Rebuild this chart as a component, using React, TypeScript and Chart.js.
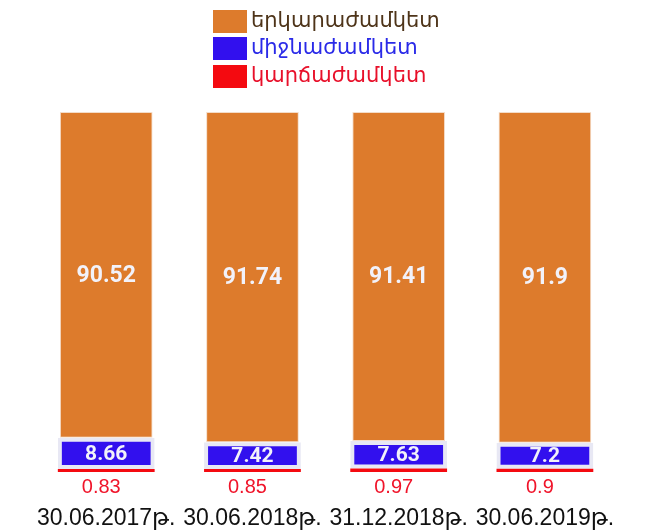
import { useEffect, useRef } from "react";
import { Chart, registerables } from "chart.js";

Chart.register(...registerables);

const categories = ["30.06.2017թ.", "30.06.2018թ.", "31.12.2018թ.", "30.06.2019թ."];
const shortTerm = [0.83, 0.85, 0.97, 0.9];
const mediumTerm = [8.66, 7.42, 7.63, 7.2];
const longTerm = [90.52, 91.74, 91.41, 91.9];
const longName = "երկարաժամկետ";
const mediumName = "միջնաժամկետ";
const shortName = "կարճաժամկետ";

const ORANGE = "#dd7b2c";
const BLUE = "#3210ee";
const RED = "#f40a10";

const legendTextColors: Record<string, string> = {
  long: "#4e3419",
  medium: "#2a2ae8",
  short: "#e8102a",
};

const valueLabels = {
  id: "valueLabels",
  afterDatasetsDraw(chart: any) {
    const ctx = chart.ctx;
    chart.data.datasets.forEach((ds: any, di: number) => {
      const meta = chart.getDatasetMeta(di);
      meta.data.forEach((el: any, i: number) => {
        const v = ds.data[i];
        const { x, y, base } = el.getProps(["x", "y", "base"], true);
        ctx.save();
        ctx.textAlign = "center";
        ctx.textBaseline = "middle";
        if (ds.kind === "short") {
          ctx.fillStyle = "#f0142a";
          ctx.font = '20px "Liberation Sans", Arial, sans-serif';
          ctx.fillText(String(v), x - 5, Math.max(y, base) + 15);
        } else {
          ctx.fillStyle = "#f2f2fa";
          ctx.font = `bold ${ds.kind === "long" ? 23 : 21}px Roboto, "Liberation Sans", sans-serif`;
          ctx.fillText(String(v), x, (y + base) / 2 + 1);
        }
        ctx.restore();
      });
    });
  },
};

const stackLegend = {
  id: "stackLegend",
  afterDraw(chart: any) {
    const ctx = chart.ctx;
    const items = [...chart.data.datasets].reverse();
    const boxX = 213;
    const boxW = 34;
    const boxH = 23;
    const rowTops = [10, 37, 65];
    items.forEach((ds: any, k: number) => {
      const top = rowTops[k];
      ctx.save();
      ctx.fillStyle = ds.backgroundColor;
      ctx.fillRect(boxX, top, boxW, boxH);
      ctx.font = '21px "DejaVu Sans", "Liberation Sans", sans-serif';
      ctx.textAlign = "left";
      ctx.textBaseline = "middle";
      ctx.fillStyle = legendTextColors[ds.kind];
      ctx.fillText(ds.label, boxX + boxW + 4, top + boxH / 2);
      ctx.restore();
    });
  },
};

export default function App() {
  const ref = useRef<HTMLCanvasElement | null>(null);

  useEffect(() => {
    document.body.style.margin = "0";
    document.body.style.overflow = "hidden";
    const canvas = ref.current;
    if (!canvas) return;
    const chart = new Chart(canvas, {
      type: "bar",
      data: {
        labels: categories,
        datasets: [
          {
            kind: "short",
            label: shortName,
            data: shortTerm,
            backgroundColor: RED,
            borderWidth: 0,
            barPercentage: 0.662,
            categoryPercentage: 1,
          } as any,
          {
            kind: "medium",
            label: mediumName,
            data: mediumTerm,
            backgroundColor: BLUE,
            borderColor: "#e8e8f4",
            borderWidth: 4,
            borderSkipped: false,
            barPercentage: 0.662,
            categoryPercentage: 1,
          } as any,
          {
            kind: "long",
            label: longName,
            data: longTerm,
            backgroundColor: ORANGE,
            borderColor: "#f4dcc8",
            borderWidth: 1,
            borderSkipped: false,
            barPercentage: 0.634,
            categoryPercentage: 1,
          } as any,
        ],
      },
      options: {
        responsive: false,
        animation: false,
        layout: { padding: { top: 112, left: 32, right: 41, bottom: 0 } },
        plugins: {
          legend: { display: false },
          tooltip: { enabled: false },
        },
        scales: {
          x: {
            stacked: true,
            grid: { display: false, drawTicks: false },
            border: { display: false },
            ticks: {
              color: "#111111",
              font: { family: '"Liberation Sans", Arial, "DejaVu Sans", sans-serif', size: 23 },
              padding: 33,
              maxRotation: 0,
              autoSkip: false,
            },
            afterFit(scale: any) {
              scale.height = 58;
            },
          },
          y: {
            stacked: true,
            display: false,
            min: 0,
            max: 100,
          },
        },
      },
      plugins: [valueLabels, stackLegend],
    });
    return () => chart.destroy();
  }, []);

  return (
    <div style={{ width: 659, height: 530, background: "#ffffff" }}>
      <canvas ref={ref} width={659} height={530} style={{ display: "block" }} />
    </div>
  );
}
